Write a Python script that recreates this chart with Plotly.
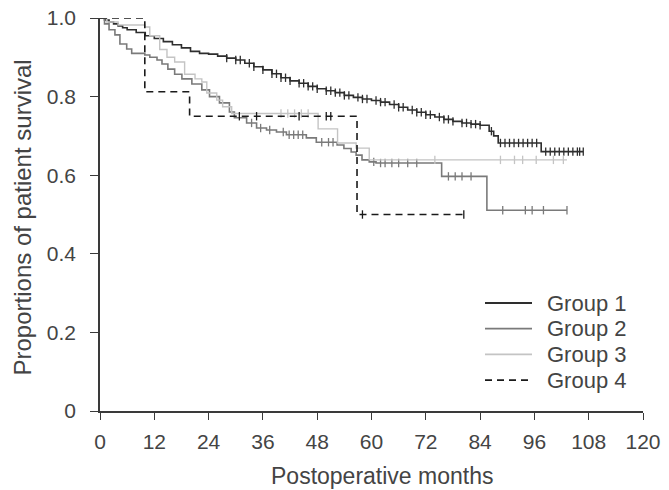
import bisect
import plotly.graph_objects as go

# ---- Data (Kaplan-Meier step points) ----
g1_t = [0, 1, 2, 3, 4, 5, 6, 8, 10, 12, 14, 16, 18, 20, 22, 24, 26, 28, 30, 32, 34, 36, 38, 40,
        42, 44, 46, 48, 50, 52, 54, 56, 58, 60, 62, 64, 66, 68, 70, 72, 74, 76, 78, 80, 82, 84,
        86, 87, 88, 97.5]
g1_s = [1.0, 0.995, 0.99, 0.985, 0.98, 0.975, 0.97, 0.963, 0.955, 0.948, 0.94, 0.932, 0.924,
        0.915, 0.91, 0.908, 0.903, 0.898, 0.893, 0.885, 0.876, 0.868, 0.858, 0.848, 0.84, 0.834,
        0.826, 0.82, 0.815, 0.81, 0.803, 0.798, 0.794, 0.79, 0.786, 0.78, 0.773, 0.766, 0.76,
        0.754, 0.748, 0.742, 0.737, 0.733, 0.73, 0.727, 0.712, 0.7, 0.682, 0.66]
g1_end = 106.8
g1_cens = [28, 30, 31, 33, 34, 36, 38, 39, 40, 41, 42, 44, 45, 46, 47, 48, 50, 51, 52, 53, 54,
           55, 57, 58, 59, 61, 62, 63, 65, 66, 67, 69, 70, 71, 72, 73, 75, 76, 77, 78, 80, 81,
           82, 83, 84, 86.5, 88.5, 89.5, 90.5, 91.5, 92.5, 93.5, 94.5, 95.5, 96.5, 98.5, 99.5,
           100.5, 101.5, 102.5, 103.5, 104.5, 105.5, 106, 106.8]

g2_t = [0, 1.0, 2.0, 3.3, 4.4, 5.9, 7.0, 9.9, 11.0, 12.6, 13.7, 15.0, 16.5, 18.1, 20.3, 22.5,
        24.2, 26.4, 28.6, 29.7, 32.4, 34.6, 36.8, 39.0, 41.2, 45.6, 47.8, 52.4, 53.9, 55.5, 56.6,
        57.9, 59.5, 61.0, 75.5, 85.5]
g2_s = [1.0, 0.985, 0.97, 0.957, 0.934, 0.921, 0.91, 0.906, 0.9, 0.893, 0.883, 0.87, 0.857,
        0.845, 0.832, 0.817, 0.8, 0.784, 0.761, 0.746, 0.733, 0.72, 0.715, 0.71, 0.703, 0.695,
        0.684, 0.677, 0.668, 0.659, 0.651, 0.639, 0.634, 0.631, 0.597, 0.511]
g2_end = 103.2
g2_cens = [33.5, 35.5, 37.5, 40.5, 41.8, 42.8, 43.8, 44.8, 49, 50.5, 51.5, 60.5, 62, 63, 64.5,
           66, 68, 70, 77, 78.5, 80, 82, 89, 94, 95.5, 98, 103.2]

g3_t = [0, 1.5, 4.0, 9.9, 11.0, 13.2, 14.8, 16.5, 18.7, 21.0, 22.5, 23.6, 25.8, 27.1, 29.1,
        48.2, 52.5, 56.6, 59.5]
g3_s = [1.0, 0.99, 0.982, 0.977, 0.955, 0.92, 0.9, 0.888, 0.857, 0.845, 0.837, 0.809, 0.791,
        0.774, 0.757, 0.718, 0.682, 0.669, 0.639]
g3_end = 103.2
g3_cens = [40, 41.5, 43, 44.5, 46, 74, 88.5, 91.6, 93.4, 96.4, 100.2, 102.4]

g4_t = [0, 9.9, 19.8, 56.8]
g4_s = [1.0, 0.8125, 0.75, 0.5]
g4_end = 80.4
g4_cens = [30.8, 34.6, 44, 50, 51, 58, 80.4]

x_ticks = [0, 12, 24, 36, 48, 60, 72, 84, 96, 108, 120]
y_ticks = [0, 0.2, 0.4, 0.6, 0.8, 1.0]
y_ticktext = ["0", "0.2", "0.4", "0.6", "0.8", "1.0"]

groups = [
    ("Group 1", g1_t, g1_s, g1_end, g1_cens, "#2e2e2e", 1.6, "solid"),
    ("Group 2", g2_t, g2_s, g2_end, g2_cens, "#7a7a7a", 1.6, "solid"),
    ("Group 3", g3_t, g3_s, g3_end, g3_cens, "#c4c4c4", 1.4, "solid"),
    ("Group 4", g4_t, g4_s, g4_end, g4_cens, "#1a1a1a", 1.6, "7px,5px"),
]

W, H = 669, 490
M = dict(l=100, r=26, t=18, b=79)
PW = W - M["l"] - M["r"]
PH = H - M["t"] - M["b"]


def px_to_paper_x(px):
    return (px - M["l"]) / PW


def px_to_paper_y(py):
    return (H - M["b"] - py) / PH


def surv_at(ts, ss, t):
    i = bisect.bisect_right(ts, t) - 1
    return ss[max(i, 0)]


font_family = "Liberation Sans, Arial, sans-serif"
text_color = "#444444"
axis_color = "#3a3a3a"

fig = go.Figure()
shapes = []
annotations = []
# legend layout (pixels): sample line x-range, text x, first row y, row step
LEG_X0, LEG_X1, LEG_TX, LEG_Y0, LEG_DY = 485, 532, 545, 303, 25.7

for idx, (name, ts, ss, end, cens, color, width, dash) in enumerate(groups):
    xs = list(ts) + [end]
    ys = list(ss) + [ss[-1]]
    fig.add_trace(go.Scatter(
        x=xs, y=ys, mode="lines", name=name, line_shape="hv",
        line=dict(color=color, width=width, dash=dash), showlegend=False,
    ))
    fig.add_trace(go.Scatter(
        x=cens, y=[surv_at(ts, ss, c) for c in cens], mode="markers",
        marker=dict(symbol="line-ns-open", size=6, color=color,
                    line=dict(color=color, width=1.3)),
        showlegend=False, hoverinfo="skip",
    ))
    ry = px_to_paper_y(LEG_Y0 + idx * LEG_DY)
    shapes.append(dict(type="line", xref="paper", yref="paper",
                       x0=px_to_paper_x(LEG_X0), x1=px_to_paper_x(LEG_X1), y0=ry, y1=ry,
                       line=dict(color=color, width=width + 0.2, dash=dash)))
    annotations.append(dict(text=name, xref="paper", yref="paper",
                            x=px_to_paper_x(LEG_TX), y=ry, xanchor="left", yanchor="middle",
                            showarrow=False,
                            font=dict(size=22, color=text_color, family=font_family)))

annotations.append(dict(
    text="Postoperative months", xref="paper", yref="paper",
    x=px_to_paper_x(382), y=px_to_paper_y(461),
    xanchor="center", yanchor="top", showarrow=False,
    font=dict(size=23, color=text_color, family=font_family)))
annotations.append(dict(
    text="Proportions of patient survival", xref="paper", yref="paper",
    x=px_to_paper_x(21.5), y=px_to_paper_y(218), textangle=-90,
    xanchor="center", yanchor="middle", showarrow=False,
    font=dict(size=24, color=text_color, family=font_family)))

fig.update_layout(
    width=W, height=H, margin=M,
    paper_bgcolor="white", plot_bgcolor="white",
    font=dict(family=font_family, size=21, color=text_color),
    showlegend=False, shapes=shapes, annotations=annotations,
)
fig.update_xaxes(
    range=[0, 120], tickvals=x_ticks, ticks="outside", ticklen=7, tickwidth=1.3,
    tickcolor=axis_color, showline=True, linecolor=axis_color, linewidth=1.5,
    showgrid=False, zeroline=False, ticklabelstandoff=4, automargin=False,
)
fig.update_yaxes(
    range=[0, 1.0], tickvals=y_ticks, ticktext=y_ticktext, ticks="outside", ticklen=8,
    tickwidth=1.3, tickcolor=axis_color, showline=True, linecolor=axis_color, linewidth=1.5,
    showgrid=False, zeroline=False, ticklabelstandoff=10, automargin=False,
)

fig.write_html("out.html")
